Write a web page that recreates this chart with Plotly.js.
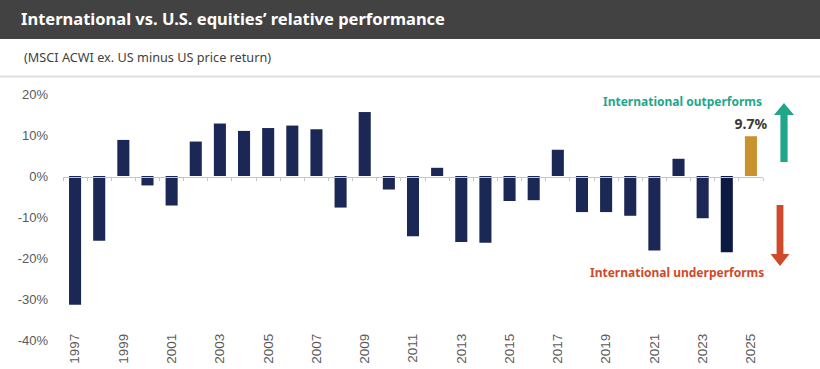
<!DOCTYPE html>
<html>
<head>
<meta charset="utf-8">
<script src="https://cdn.plot.ly/plotly-3.0.1.min.js"></script>
<style>
  html, body { margin: 0; padding: 0; background: #ffffff; }
  #chart { width: 820px; height: 369px; }
</style>
</head>
<body>
<div id="chart"></div>
<script>
// ---- Data ----
const years = [1997, 1998, 1999, 2000, 2001, 2002, 2003, 2004, 2005, 2006,
               2007, 2008, 2009, 2010, 2011, 2012, 2013, 2014, 2015, 2016,
               2017, 2018, 2019, 2020, 2021, 2022, 2023, 2024, 2025];
const relativeReturn = [-31.4, -15.8, 8.8, -2.3, -7.2, 8.4, 12.8, 11.0, 11.7, 12.3,
                        11.4, -7.7, 15.6, -3.3, -14.7, 2.0, -16.1, -16.3, -6.1, -5.9,
                        6.4, -8.8, -8.8, -9.7, -18.2, 4.2, -10.3, -18.6, 9.7];
const barLabels = ['', '', '', '', '', '', '', '', '', '',
                   '', '', '', '', '', '', '', '', '', '',
                   '', '', '', '', '', '', '', '', '9.7%'];
const tickYears = [1997, 1999, 2001, 2003, 2005, 2007, 2009, 2011, 2013, 2015,
                   2017, 2019, 2021, 2023, 2025];
const yTicks = [-40, -30, -20, -10, 0, 10, 20];

// ---- Geometry helpers ----
const W = 820, H = 369;
const M = { l: 63, r: 57, t: 94, b: 29 };
const PW = W - M.l - M.r, PH = H - M.t - M.b;
const xf = px => (px - M.l) / PW;
const yf = py => (H - M.b - py) / PH;

const navy = '#1b2856', navyDark = '#0b1a42', gold = '#c8922f';
const colors = years.map(y => y === 2025 ? gold : (y === 2024 ? navyDark : navy));

const teal = '#1fa68b', red = '#cf4a2a';
const baseFont = 'Liberation Sans, Arial, sans-serif';
const headFont = 'Noto Sans, Open Sans, sans-serif';

const boundaries = years.map(y => y - 0.5).concat([years[years.length - 1] + 0.5]);

function arrowPath(cx, tipY, baseY, endY, headHalf, shaftHalf) {
  const pts = [
    [cx, tipY], [cx + headHalf, baseY], [cx + shaftHalf, baseY],
    [cx + shaftHalf, endY], [cx - shaftHalf, endY], [cx - shaftHalf, baseY],
    [cx - headHalf, baseY]
  ];
  return 'M' + pts.map(p => xf(p[0]).toFixed(5) + ',' + yf(p[1]).toFixed(5)).join(' L') + ' Z';
}

// invisible helper trace so the zero-line axis (x2) is drawn
const axisHelper = {
  type: 'scatter', mode: 'markers',
  x: years, y: relativeReturn,
  xaxis: 'x2', yaxis: 'y',
  marker: { opacity: 0, size: 1 },
  hoverinfo: 'skip', showlegend: false
};

const trace = {
  type: 'bar',
  x: years,
  y: relativeReturn,
  width: 0.5,
  marker: { color: colors, line: { width: 0 } },
  text: barLabels,
  textposition: 'outside',
  constraintext: 'none',
  cliponaxis: false,
  textfont: { family: headFont, size: 14, color: '#3a3a3a', weight: 700 },
  hoverinfo: 'x+y'
};

const layout = {
  width: W, height: H,
  margin: M,
  paper_bgcolor: '#ffffff',
  plot_bgcolor: '#ffffff',
  showlegend: false,
  bargap: 0.5,
  title: {
    text: '<b>International vs. U.S. equities’ relative performance</b>',
    x: 21 / W, xanchor: 'left',
    y: 1 - 19.5 / H, yanchor: 'middle',
    font: { family: headFont, size: 16.5, color: '#ffffff' }
  },
  xaxis: {
    range: [1996.5, 2025.5],
    anchor: 'free',
    position: yf(330),
    tickmode: 'array',
    tickvals: tickYears,
    ticktext: tickYears.map(String),
    tickangle: -90,
    ticks: '',
    showline: false,
    showgrid: false,
    zeroline: false,
    tickfont: { family: baseFont, size: 13.5, color: '#595959' },
    fixedrange: true
  },
  xaxis2: {
    overlaying: 'x',
    range: [1996.5, 2025.5],
    anchor: 'free',
    position: yf(176.5),
    side: 'bottom',
    tickmode: 'array',
    tickvals: boundaries,
    showticklabels: false,
    ticks: 'outside',
    ticklen: 3,
    tickwidth: 1,
    tickcolor: '#c4c4c4',
    showline: true,
    linecolor: '#c4c4c4',
    linewidth: 1.5,
    showgrid: false,
    zeroline: false,
    fixedrange: true
  },
  yaxis: {
    range: [-40, 20],
    tickmode: 'array',
    tickvals: yTicks,
    ticktext: yTicks.map(v => v + '%'),
    ticks: '',
    ticklabelstandoff: 14,
    showline: false,
    showgrid: false,
    zeroline: false,
    tickfont: { family: baseFont, size: 13, color: '#595959' },
    fixedrange: true
  },
  shapes: [
    { type: 'rect', xref: 'paper', yref: 'paper', layer: 'below',
      x0: xf(0), x1: xf(W), y0: yf(39), y1: yf(0),
      fillcolor: '#424242', line: { width: 0 } },
    { type: 'line', xref: 'paper', yref: 'paper', layer: 'below',
      x0: xf(0), x1: xf(W), y0: yf(76.5), y1: yf(76.5),
      line: { color: '#dedede', width: 2 } },
    { type: 'path', xref: 'paper', yref: 'paper',
      path: arrowPath(784, 103, 115, 162, 10, 3.6),
      fillcolor: teal, line: { width: 0 } },
    { type: 'path', xref: 'paper', yref: 'paper',
      path: arrowPath(780, 266, 254, 205, 9.5, 3.4),
      fillcolor: red, line: { width: 0 } }
  ],
  annotations: [
    { xref: 'paper', yref: 'paper', x: xf(22), y: yf(57),
      xanchor: 'left', yanchor: 'middle', showarrow: false,
      text: '(MSCI ACWI ex. US minus US price return)',
      font: { family: headFont, size: 12.7, color: '#3f3f3f' } },
    { xref: 'paper', yref: 'paper', x: xf(764), y: yf(101),
      xanchor: 'right', yanchor: 'middle', showarrow: false,
      text: '<b>International outperforms</b>',
      font: { family: headFont, size: 12, color: teal } },
    { xref: 'paper', yref: 'paper', x: xf(766), y: yf(272),
      xanchor: 'right', yanchor: 'middle', showarrow: false,
      text: '<b>International underperforms</b>',
      font: { family: headFont, size: 12, color: red } }
  ]
};

Plotly.newPlot('chart', [trace, axisHelper], layout, { displayModeBar: false, staticPlot: true });
</script>
</body>
</html>
